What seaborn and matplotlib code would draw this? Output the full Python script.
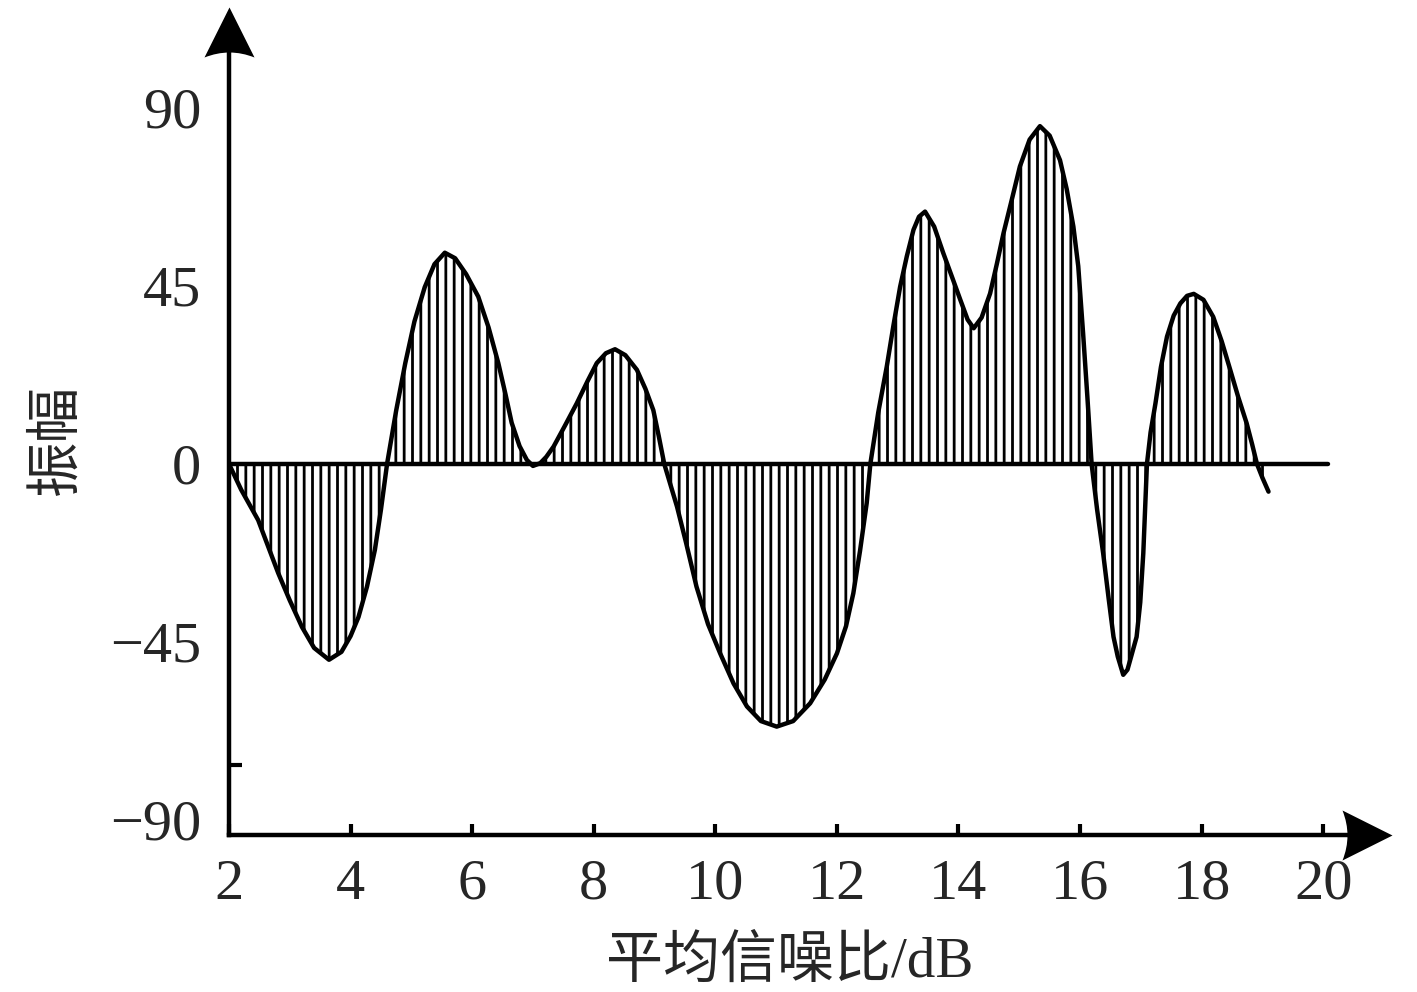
import matplotlib
matplotlib.use('Agg')
import matplotlib.pyplot as plt
from matplotlib.path import Path
import pandas as pd
import seaborn as sns

# curve values
snr = [2.00, 2.20, 2.48, 2.81, 3.00, 3.20, 3.40, 3.645, 3.85, 4.00,
       4.13, 4.27, 4.40, 4.50, 4.60, 4.75, 4.90, 5.05, 5.22, 5.38,
       5.55, 5.72, 5.90, 6.10, 6.27, 6.43, 6.55, 6.65, 6.78, 6.90,
       7.00, 7.12, 7.22, 7.34, 7.52, 7.72, 7.90, 8.05, 8.20, 8.35,
       8.52, 8.71, 8.85, 8.98, 9.07, 9.16, 9.37, 9.52, 9.69, 9.88,
       10.08, 10.30, 10.52, 10.75, 11.01, 11.28, 11.56, 11.80, 12.00, 12.15,
       12.27, 12.38, 12.49, 12.55, 12.68, 12.82, 12.93, 13.04, 13.15, 13.26,
       13.35, 13.45, 13.60, 13.75, 13.90, 14.03, 14.15, 14.25, 14.38, 14.52,
       14.63, 14.74, 14.88, 15.01, 15.17, 15.34, 15.50, 15.67, 15.78, 15.89,
       15.97, 16.05, 16.12, 16.19, 16.28, 16.38, 16.47, 16.55, 16.62, 16.71,
       16.78, 16.84, 16.93, 16.99, 17.04, 17.10, 17.16, 17.24, 17.33, 17.43,
       17.54, 17.65, 17.76, 17.87, 18.03, 18.19, 18.33, 18.47, 18.60, 18.74,
       18.83, 18.91, 19.00, 19.10]
amp = [0.0, -6.5, -14.2, -27.6, -34.5, -41.2, -46.5, -49.5, -47.5, -43.5,
       -38.7, -31.0, -21.7, -11.5, 0.0, 13.5, 25.5, 36.0, 44.7, 50.5,
       53.4, 52.0, 48.0, 42.3, 34.5, 25.5, 17.5, 10.4, 4.5, 1.0,
       -0.5, 0.2, 1.8, 4.4, 9.5, 15.3, 21.0, 25.5, 28.0, 29.0,
       27.5, 23.8, 19.0, 13.6, 7.0, 0.0, -10.8, -20.0, -31.0, -40.5,
       -47.9, -55.5, -61.3, -65.0, -66.4, -65.0, -60.5, -54.5, -47.9, -41.0,
       -32.7, -22.0, -9.9, 0.0, 13.0, 24.6, 35.0, 44.8, 52.5, 59.2,
       62.5, 63.8, 60.0, 53.3, 47.0, 41.5, 36.5, 34.3, 37.0, 43.1,
       50.5, 58.3, 67.0, 75.2, 82.0, 85.4, 83.0, 76.8, 69.5, 60.0,
       50.0, 33.0, 17.0, 0.0, -11.5, -22.6, -34.0, -43.7, -48.7, -53.3,
       -52.0, -48.7, -43.7, -35.0, -22.6, 0.0, 8.0, 15.3, 24.5, 32.2,
       37.5, 40.6, 42.5, 43.0, 41.5, 37.2, 31.0, 23.8, 17.0, 10.3,
       5.0, 0.0, -3.5, -7.0]

x_ticks = [2, 4, 6, 8, 10, 12, 14, 16, 18, 20]
y_ticks = [90, 45, 0, -45, -90]
y_marks = [90, 45, -76]
x_label = '平均信噪比/dB'
y_label = '振幅'

sns.set_style('ticks')
plt.rcParams['font.family'] = ['Liberation Serif', 'Noto Sans CJK SC']
plt.rcParams['hatch.linewidth'] = 2.0
plt.rcParams['hatch.color'] = 'black'

W, H = 1417, 992
fig = plt.figure(figsize=(W / 100, H / 100), dpi=100)
# axes box in pixels: left 229, right 1367, top 32, bottom 835
ax = fig.add_axes([229 / W, 1 - 835 / H, (1367 - 229) / W, (835 - 32) / H])

df = pd.DataFrame({'snr': snr, 'amp': amp})
ax.fill_between(df['snr'], df['amp'], 0, facecolor='none', edgecolor='black',
                hatch='||', linewidth=0)
sns.lineplot(data=df, x='snr', y='amp', color='black', lw=3.2, sort=False, ax=ax,
             solid_joinstyle='round', solid_capstyle='round')
ax.axhline(0, xmin=0, xmax=(1328 - 229) / (1367 - 229), color='black', lw=3.2)

ax.set_xlim(2, 20.72)
ax.set_ylim(-93.8, 109.2)

for side in ['top', 'right']:
    ax.spines[side].set_visible(False)
for side in ['left', 'bottom']:
    ax.spines[side].set_linewidth(3.2)
    ax.spines[side].set_color('black')

ax.set_xticks(x_ticks)
ax.tick_params(axis='x', direction='in', length=8, width=3, color='black',
               labelsize=42, pad=17)
ax.set_yticks(y_ticks)
ax.tick_params(axis='y', which='major', length=0, labelsize=42, pad=20)
ax.set_yticks(y_marks, minor=True)
ax.tick_params(axis='y', which='minor', direction='in', length=9, width=3,
               color='black')

# arrow heads with a slightly concave base
up = Path([(0, 1), (1, -1), (0, -0.6), (-1, -1), (0, 1)],
          [Path.MOVETO, Path.LINETO, Path.CURVE3, Path.CURVE3, Path.CLOSEPOLY])
right = Path([(1, 0), (-1, 1), (-0.6, 0), (-1, -1), (1, 0)],
             [Path.MOVETO, Path.LINETO, Path.CURVE3, Path.CURVE3, Path.CLOSEPOLY])
ax.plot(0, 1, marker=up, ms=36, color='black', mew=0,
        transform=ax.transAxes, clip_on=False)
ax.plot(1, 0, marker=right, ms=36, color='black', mew=0,
        transform=ax.transAxes, clip_on=False)

ax.set_xlabel(x_label, fontsize=41)
ax.xaxis.set_label_coords(0.493, -0.125)
ax.set_ylabel(y_label, fontsize=40)
ax.yaxis.set_label_coords(-0.128, 0.492)

fig.savefig('out.png', dpi=100)
